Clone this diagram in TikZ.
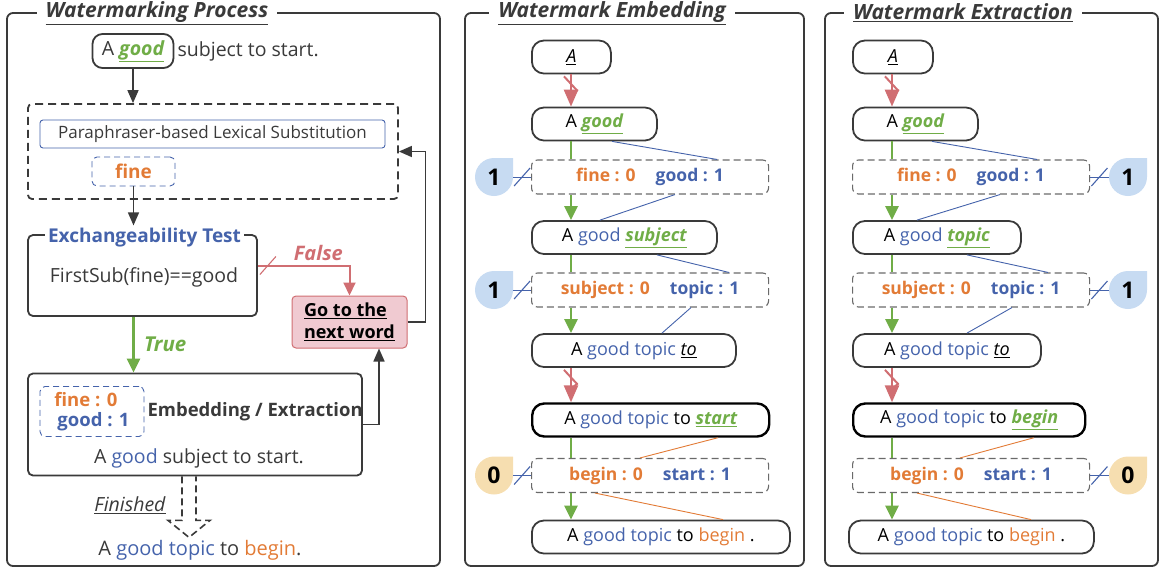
\documentclass[tikz,border=0pt]{standalone}
\usepackage{fontspec}
\setmainfont{Open Sans}
\usetikzlibrary{arrows.meta,calc,decorations.markings}

\definecolor{dk}{HTML}{3A3A3A}
\definecolor{gn}{HTML}{70AD47}
\definecolor{bl}{HTML}{4563AB}
\definecolor{og}{HTML}{E27B36}
\definecolor{rd}{HTML}{D06E72}
\definecolor{pk}{HTML}{F0CAD1}
\definecolor{bb}{HTML}{C7DBF2}
\definecolor{tn}{HTML}{F6DEB0}
\definecolor{gr}{HTML}{6A6A6A}

% chosen word, kept word, replaced word
\newcommand{\gw}[1]{\textcolor{gn}{\bfseries\itshape\underline{#1}}}
\newcommand{\bw}[1]{\textcolor{bl}{#1}}
\newcommand{\ow}[1]{\textcolor{og}{#1}}
% bit bubble: name, x, y, colour, bit
\newcommand{\bub}[5]{\fill[#4] (#2,#3) circle (19) (#2,#3) rectangle ++(19,-19);
  \node[num] (#1) at (#2,#3) {#5};}

\tikzset{
  frame/.style={draw=dk, line width=1.8pt, rounded corners=6pt},
  ptitle/.style={fill=white, inner xsep=9pt, text=dk, font=\fontsize{21}{24}\selectfont\bfseries\itshape},
  sent/.style={draw=dk, line width=1.8pt, rounded corners=12pt, minimum height=33pt, anchor=west, font=\fontsize{18}{21}\selectfont},
  keys/.style={draw=gr, dash pattern=on 7pt off 4pt, line width=1.1pt, rounded corners=6pt, minimum height=34pt, minimum width=237pt, anchor=west, font=\fontsize{17.5}{20}\selectfont\bfseries},
  num/.style={circle, minimum size=38pt, inner sep=0pt, font=\fontsize{23}{25}\selectfont\bfseries},
  gline/.style={draw=gn, line width=2.4pt},
  garr/.style={gline, -{Triangle[length=14pt,width=13pt]}},
  rarr/.style={draw=rd, line width=2.6pt, -{Triangle[length=17pt,width=14pt]}},
  darr/.style={draw=dk, line width=1.6pt, -{Triangle[length=13pt,width=11pt]}},
  link/.style={draw=bl, line width=0.9pt},
  olink/.style={draw=og, line width=0.9pt},
  lt/.style={text=dk, font=\fontsize{19.5}{22}\selectfont},
  cut/.style 2 args={postaction={decorate, decoration={markings, mark=at position #1 with {\draw[-, solid, #2, line width=1.1pt] (-8pt,-9pt) -- (8pt,9pt);}}}},
  skip/.style={postaction={decorate, decoration={markings, mark=at position 2pt with {\draw[-, rd, line width=2pt] (0pt,-7pt) -- (14pt,6pt) -- (19pt,0pt);}}}},
}

\begin{document}
\begin{tikzpicture}[x=1pt, y=-1pt]
\useasboundingbox (0,0) rectangle (1163,571);

% ---- watermarking process
\draw[frame] (7,13) rectangle (440,566);
\node[ptitle] (t1) at (157,13) {\underline{Watermarking Process}};

\node[lt, draw=dk, line width=1.8pt, rounded corners=10pt, minimum width=81pt, minimum height=34pt, inner sep=2pt] (s0) at (133,51) {A \gw{good}};
\node[lt, anchor=west, inner xsep=3pt] (s0r) at (s0.east) {subject to start.};

\node[draw=dk, dash pattern=on 8pt off 5pt, line width=1.8pt, rounded corners=4pt, minimum width=370pt, minimum height=95pt] (ps) at (213,151.5) {};
\node[draw=bl, line width=0.9pt, rounded corners=3pt, minimum width=345pt, minimum height=28pt, text=dk, font=\fontsize{17}{19}\selectfont] (lex) at (212.5,134) {Paraphraser-based Lexical Substitution};
\node[draw=bl, dash pattern=on 6pt off 4pt, line width=0.9pt, rounded corners=5pt, minimum width=83pt, minimum height=29pt, text=og, font=\fontsize{19}{22}\selectfont\bfseries] (fine) at (133.5,171.5) {fine};
\draw[darr] (s0) -- (ps.north -| s0);

\node[draw=dk, line width=1.8pt, rounded corners=5pt, minimum width=229pt, minimum height=81pt] (ex) at (142.5,275.5) {};
\node[fill=white, inner ysep=2pt, inner xsep=3pt, text=bl, font=\fontsize{19}{22}\selectfont\bfseries] (ext) at ([xshift=2pt,yshift=-3pt]ex.north) {Exchangeability Test};
\node[lt] (fs) at (144,277) {FirstSub(fine)==good};
\draw[darr] (fine) -- (ext.north -| fine);

\node[draw=rd, fill=pk, line width=1pt, rounded corners=4pt, minimum width=115pt, minimum height=52pt, align=left, inner xsep=4pt, font=\fontsize{18}{22}\selectfont\bfseries] (go) at (349.5,322) {\underline{Go to the}\\\underline{next word}};
\draw[draw=rd, line width=2pt, -{Triangle[length=13pt,width=12pt]}, cut={10pt}{rd}] ([yshift=10pt]ex.east) -| (go.north)
  node[pos=0.33, above=0pt, text=rd, font=\fontsize{20}{23}\selectfont\bfseries\itshape] (fl) {False};
\draw[darr] (go.east) -- ++(18,0) |- (ps.east);

\node[draw=dk, line width=1.8pt, rounded corners=5pt, minimum width=334pt, minimum height=102pt] (emb) at (195,424.5) {};
\draw[garr] (ex.south -| fine) -- (emb.north -| fine) node[midway, right=6pt, text=gn, font=\fontsize{20.5}{23}\selectfont\bfseries\itshape] (tl) {True};
\node[draw=bl, dash pattern=on 6pt off 4pt, line width=0.9pt, rounded corners=5pt, minimum width=104pt, minimum height=50pt, align=left, inner xsep=3pt, font=\fontsize{18.5}{21}\selectfont\bfseries] (kv) at (92,411.5) {\ow{fine : 0}\\[-1pt]\hspace{3pt}\bw{good : 1}};
\node[anchor=east, inner xsep=0pt, text=dk, font=\fontsize{18.5}{21}\selectfont\bfseries] (ee) at (emb.east |- 0,412) {Embedding / Extraction};
\node[lt] (es) at (199,458) {A \bw{good} subject to start.};
\draw[darr] (emb.east) -| ([xshift=29.5pt]go.south);

\node[lt, font=\fontsize{20}{23}\selectfont] (res) at (200,550) {A \bw{good topic} to \ow{begin}.};
\draw[dk, line width=1.6pt, dash pattern=on 7pt off 4pt] ([xshift=-13pt]emb.south) -- ++(0,44) -- ++(-14,0) -- ++(21,17) -- ++(21,-17) -- ++(-14,0) -- ++(0,-44);
\node[lt, font=\fontsize{19.5}{22}\selectfont\itshape] (finl) at (130,505) {\underline{Finished}};

% ---- watermark embedding
\draw[frame] (465,13) rectangle (804,566);
\node[ptitle] (t2) at (612,13) {\underline{Watermark Embedding}};
\coordinate (ea) at (571,0);

\node[sent, minimum width=79pt] (e0) at (531,57) {\underline{\itshape A}};
\node[sent, minimum width=125pt] (e1) at (531,124) {A \gw{good}};
\node[keys] (ek1) at (531,177) {\ow{fine : 0}\hspace{20pt}\bw{good : 1}};
\node[sent, minimum width=185pt] (e2) at (531,237.5) {A \bw{good} \gw{subject}};
\node[keys] (ek2) at (531,290) {\ow{subject : 0}\hspace{20pt}\bw{topic : 1}};
\node[sent, minimum width=204pt] (e3) at (531,350.5) {A \bw{good topic} \underline{\itshape to}};
\node[sent, minimum width=237pt, draw=black, line width=2.4pt] (e4) at (531,420) {A \bw{good topic} to \gw{start}};
\node[keys] (ek3) at (531,475.5) {\ow{begin : 0}\hspace{20pt}\bw{start : 1}};
\node[sent, minimum width=258pt] (e5) at (531,537) {A \bw{good topic} to \ow{begin} .};

\bub{eb1}{494}{177}{bb}{1}
\bub{eb2}{494}{290}{bb}{1}
\bub{eb3}{494}{475.5}{tn}{0}

% ---- watermark extraction
\draw[frame] (825,13) rectangle (1158,566);
\node[ptitle] (t3) at (963,13) {\underline{Watermark Extraction}};
\coordinate (xa) at (892,0);

\node[sent, minimum width=80pt] (x0) at (852,57) {\underline{\itshape A}};
\node[sent, minimum width=125pt] (x1) at (852,124) {A \gw{good}};
\node[keys] (xk1) at (852,177) {\ow{fine : 0}\hspace{20pt}\bw{good : 1}};
\node[sent, minimum width=168pt] (x2) at (852,237.5) {A \bw{good} \gw{topic}};
\node[keys] (xk2) at (852,290) {\ow{subject : 0}\hspace{20pt}\bw{topic : 1}};
\node[sent, minimum width=188pt] (x3) at (852,350.5) {A \bw{good topic} \underline{\itshape to}};
\node[sent, minimum width=232pt, draw=black, line width=2.4pt] (x4) at (852,420) {A \bw{good topic} to \gw{begin}};
\node[keys] (xk3) at (852,475.5) {\ow{begin : 0}\hspace{20pt}\bw{start : 1}};
\node[sent, minimum width=245pt] (x5) at (848,537) {A \bw{good topic} to \ow{begin} .};

\bub{xb1}{1128}{177}{bb}{1}
\bub{xb2}{1128}{290}{bb}{1}
\bub{xb3}{1128}{475.5}{tn}{0}

% steps down each column
\foreach \p in {e,x} {
  \draw[rarr, skip] (\p0.south -| \p a) -- (\p1.north -| \p a);
  \draw[gline] (\p1.south -| \p a) -- (\p k1.north -| \p a);
  \draw[garr] (\p k1.south -| \p a) -- (\p2.north -| \p a);
  \draw[gline] (\p2.south -| \p a) -- (\p k2.north -| \p a);
  \draw[garr] (\p k2.south -| \p a) -- (\p3.north -| \p a);
  \draw[rarr, skip] (\p3.south -| \p a) -- (\p4.north -| \p a);
  \draw[gline] (\p4.south -| \p a) -- (\p k3.north -| \p a);
  \draw[garr] (\p k3.south -| \p a) -- (\p5.north -| \p a);
}
\foreach \i in {1,2,3} {
  \draw[link, cut={0.5}{bl}] (eb\i) -- (ek\i);
  \draw[link, cut={0.5}{bl}] (xk\i) -- (xb\i);
}

% word to key links
\draw[link] ([xshift=81pt]e1.south west) -- ([xshift=186pt]ek1.north west);
\draw[link] ([xshift=144pt]ek1.south west) -- ([xshift=69pt]e2.north west);
\draw[link] ([xshift=126pt]e2.south west) -- ([xshift=198pt]ek2.north west);
\draw[link] ([xshift=160pt]ek2.south west) -- ([xshift=131pt]e3.north west);
\draw[olink] ([xshift=187pt]e4.south west) -- ([xshift=109pt]ek3.north west);
\draw[olink] ([xshift=64pt]ek3.south west) -- ([xshift=192pt]e5.north west);

\draw[link] ([xshift=80pt]x1.south west) -- ([xshift=185pt]xk1.north west);
\draw[link] ([xshift=148pt]xk1.south west) -- ([xshift=65pt]x2.north west);
\draw[link] ([xshift=115pt]x2.south west) -- ([xshift=196pt]xk2.north west);
\draw[link] ([xshift=160pt]xk2.south west) -- ([xshift=115pt]x3.north west);
\draw[olink] ([xshift=182pt]x4.south west) -- ([xshift=108pt]xk3.north west);
\draw[olink] ([xshift=65pt]xk3.south west) -- ([xshift=183pt]x5.north west);
\end{tikzpicture}
\end{document}
